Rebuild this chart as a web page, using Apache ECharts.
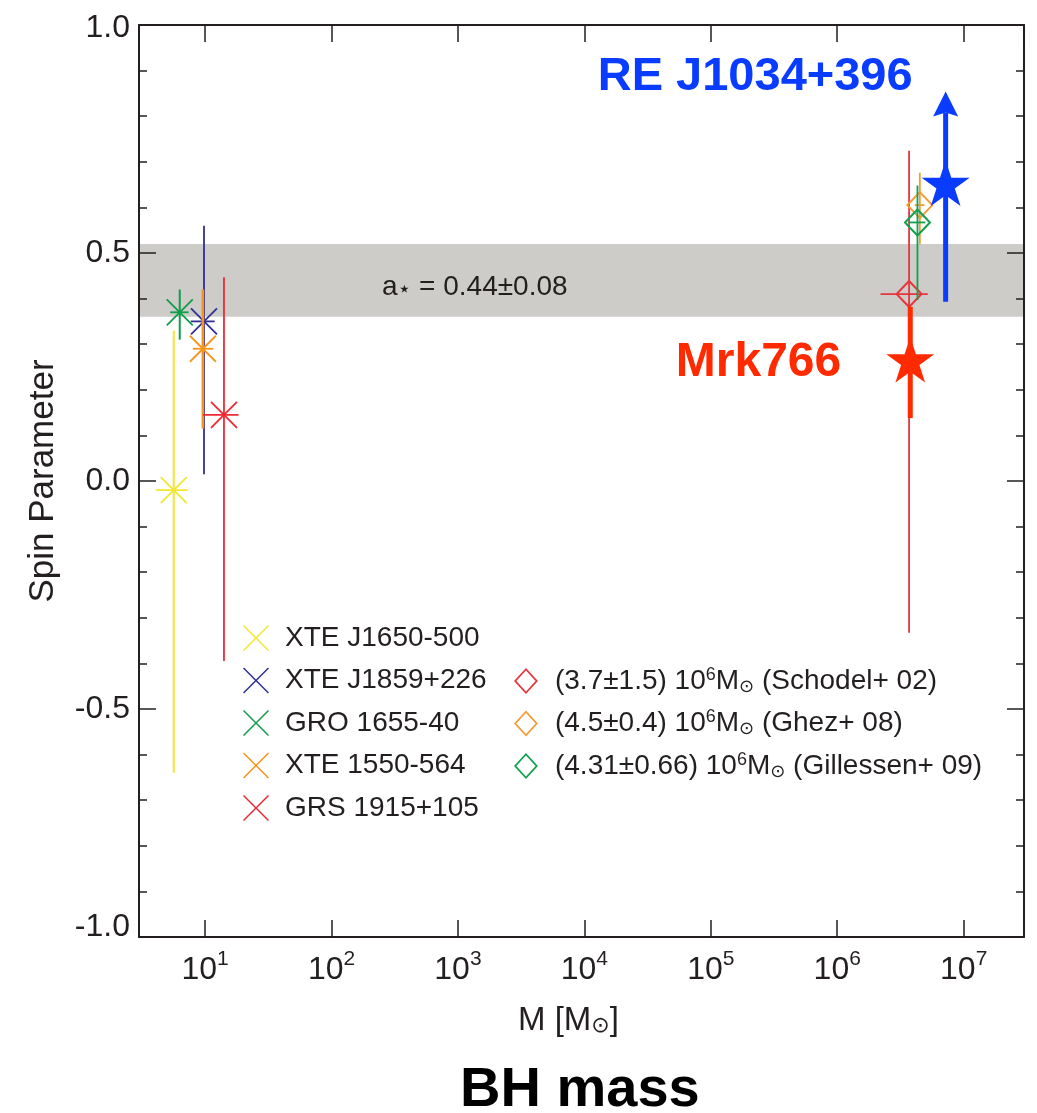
<!DOCTYPE html>
<html><head><meta charset="utf-8">
<script src="https://cdn.jsdelivr.net/npm/echarts@6/dist/echarts.min.js"></script>
<style>html,body{margin:0;padding:0;background:#fff}#c{width:1037px;height:1113px}</style>
</head><body><div id="c"></div>
<script>
// ---------- data ----------
const xRange = [3, 3e7];
const yRange = [-1, 1];
const yInterval = 0.5;

const stellarNames  = ['XTE J1650-500', 'XTE J1859+226', 'GRO 1655-40', 'XTE 1550-564', 'GRS 1915+105'];
const stellarMass   = [5.65, 9.8, 6.3, 9.6, 14.1];
const stellarMassLo = [4.1, 7.7, 5.3, 8.0, 9.6];
const stellarMassHi = [7.3, 11.9, 7.4, 11.6, 18.4];
const stellarSpin   = [-0.02, 0.35, 0.37, 0.29, 0.145];
const stellarSpinLo = [-0.64, 0.015, 0.31, 0.115, -0.395];
const stellarSpinHi = [0.33, 0.56, 0.42, 0.42, 0.447];

const sgrNames  = ['Schodel+ 02', 'Ghez+ 08', 'Gillessen+ 09'];
const sgrLegend = ['(3.7±1.5) 10{sup|6}M{sub|⊙} (Schodel+ 02)', '(4.5±0.4) 10{sup|6}M{sub|⊙} (Ghez+ 08)', '(4.31±0.66) 10{sup|6}M{sub|⊙} (Gillessen+ 09)'];
const sgrMass   = [3.7e6, 4.5e6, 4.31e6];
const sgrMassLo = [2.2e6, 4.1e6, 3.65e6];
const sgrMassHi = [5.2e6, 4.9e6, 4.97e6];
const sgrSpin   = [0.41, 0.605, 0.567];
const sgrSpinLo = [-0.333, 0.519, 0.397];
const sgrSpinHi = [0.724, 0.676, 0.648];

const agnNames  = ['RE J1034+396', 'Mrk766'];
const agnMass   = [7.2e6, 3.78e6];
const agnSpin   = [0.653, 0.266];
const agnSpinLo = [0.393, 0.138];
const agnSpinHi = [0.854, 0.382];
const agnLowerLimit = [true, false];

const bandSpin  = [0.36, 0.52];
const bandLabel = 'a{st|⋆} = 0.44±0.08';

// ---------- styles ----------
const FONT = '"Liberation Sans", Arial, Helvetica, sans-serif';
const INK = '#231f20';
const stellarColors = ['#f2e632', '#2e3192', '#0f9d4a', '#f7941d', '#ec2a33'];
const stellarWidths = [2, 1.8, 2, 2.6, 1.8];
const sgrColors = ['#e8353d', '#f59a38', '#13a04e'];
const agnColors = ['#0a3cff', '#ff2a00'];
const agnLabelOffset = [[-33, -106], [-69, 3]];
const agnFontSize = [47, 48];

const XPATH = 'M0,4 L4,0 L50,46 L96,0 L100,4 L54,50 L100,96 L96,100 L50,54 L4,100 L0,96 L46,50 Z';
const DPATH = 'M46,0 L92,50 L46,100 L0,50 Z M46,10 L9,50 L46,90 L83,50 Z';
const STAR = 'M50,0 L61.23,34.55 L97.55,34.55 L68.17,55.9 L79.39,90.45 L50,69.1 L20.61,90.45 L31.83,55.9 L2.45,34.55 L38.77,34.55 Z';

function lineEl(p, q, color, w) {
  return {type: 'line', shape: {x1: p[0], y1: p[1], x2: q[0], y2: q[1]}, style: {stroke: color, lineWidth: w, fill: null}};
}

const series = [];

// band
series.push({
  type: 'line', data: [], z: 1, silent: true,
  markArea: {
    silent: true,
    itemStyle: {color: '#cdccc8'},
    label: {
      show: true, position: 'insideLeft', offset: [238, 7],
      formatter: bandLabel, color: INK, fontSize: 28, fontFamily: FONT,
      rich: {st: {fontSize: 22, fontFamily: '"DejaVu Sans", sans-serif', verticalAlign: 'bottom', lineHeight: 26, color: INK}}
    },
    data: [[{yAxis: bandSpin[0]}, {yAxis: bandSpin[1]}]]
  }
});

// stellar-mass black holes
stellarNames.forEach((name, i) => {
  const col = stellarColors[i], w = stellarWidths[i];
  series.push({
    type: 'custom', name: name, z: 3,
    itemStyle: {color: col},
    data: [[stellarMass[i], stellarSpin[i], stellarMassLo[i], stellarMassHi[i], stellarSpinLo[i], stellarSpinHi[i]]],
    renderItem: (params, api) => {
      const c = api.coord([api.value(0), api.value(1)]);
      const vLo = api.coord([api.value(0), api.value(4)]);
      const vHi = api.coord([api.value(0), api.value(5)]);
      const hLo = api.coord([api.value(2), api.value(1)]);
      const hHi = api.coord([api.value(3), api.value(1)]);
      const s = 13;
      return {type: 'group', children: [
        lineEl(vLo, vHi, col, w),
        lineEl(hLo, hHi, col, 1.8),
        lineEl([c[0] - s, c[1] - s], [c[0] + s, c[1] + s], col, 1.8),
        lineEl([c[0] - s, c[1] + s], [c[0] + s, c[1] - s], col, 1.8)
      ]};
    }
  });
});

// Sgr A* mass estimates
sgrNames.forEach((name, i) => {
  const col = sgrColors[i];
  series.push({
    type: 'custom', name: name, z: 3,
    itemStyle: {color: col},
    data: [[sgrMass[i], sgrSpin[i], sgrMassLo[i], sgrMassHi[i], sgrSpinLo[i], sgrSpinHi[i]]],
    renderItem: (params, api) => {
      const c = api.coord([api.value(0), api.value(1)]);
      const vLo = api.coord([api.value(0), api.value(4)]);
      const vHi = api.coord([api.value(0), api.value(5)]);
      const hLo = api.coord([api.value(2), api.value(1)]);
      const hHi = api.coord([api.value(3), api.value(1)]);
      const dx = 12.5, dy = 13;
      return {type: 'group', children: [
        lineEl(vLo, vHi, col, 1.8),
        lineEl(hLo, hHi, col, 1.8),
        {type: 'polygon', shape: {points: [[c[0], c[1] - dy], [c[0] + dx, c[1]], [c[0], c[1] + dy], [c[0] - dx, c[1]]]},
         style: {stroke: col, lineWidth: 2, fill: null}}
      ]};
    }
  });
});

// AGN
agnNames.forEach((name, i) => {
  const col = agnColors[i];
  series.push({
    type: 'custom', name: name, z: 4,
    itemStyle: {color: col},
    data: [[agnMass[i], agnSpin[i], agnSpinLo[i], agnSpinHi[i]]],
    renderItem: (params, api) => {
      const c = api.coord([api.value(0), api.value(1)]);
      const lo = api.coord([api.value(0), api.value(2)]);
      const hi = api.coord([api.value(0), api.value(3)]);
      const children = [];
      if (agnLowerLimit[i]) {
        const head = 25;
        children.push(lineEl(lo, [hi[0], hi[1] + head - 4], col, 5));
        children.push({type: 'polygon', shape: {points: [[hi[0], hi[1]], [hi[0] + 12.5, hi[1] + head], [hi[0], hi[1] + head - 4], [hi[0] - 12.5, hi[1] + head]]},
                       style: {fill: col}});
      } else {
        children.push(lineEl(lo, hi, col, 5));
      }
      const W = 48, H = 46;
      children.push({type: 'path', shape: {pathData: STAR, x: c[0] - W / 2, y: c[1] - H / 2, width: W, height: H, layout: 'center'}, style: {fill: col}});
      children.push({type: 'text', style: {text: name, x: c[0] + agnLabelOffset[i][0], y: c[1] + agnLabelOffset[i][1],
        textAlign: 'right', textVerticalAlign: 'middle', align: 'right', verticalAlign: 'middle',
        font: 'bold ' + agnFontSize[i] + 'px ' + FONT, fill: col}});
      return {type: 'group', children: children};
    }
  });
});

const legendText = {fontSize: 28, fontFamily: FONT, color: INK, lineHeight: 30, padding: [0, 0, 0, 11]};
const legendRich = {
  sup: {fontSize: 18, fontFamily: FONT, color: INK, lineHeight: 14, verticalAlign: 'top'},
  sub: {fontSize: 18, fontFamily: '"DejaVu Sans", sans-serif', color: INK, lineHeight: 14, verticalAlign: 'bottom'}
};

const option = {
  animation: false,
  backgroundColor: '#fff',
  title: {
    text: 'BH mass', left: 455, top: 1058,
    textStyle: {fontSize: 56, fontWeight: 'bold', fontFamily: FONT, color: '#000'}
  },
  grid: {left: 139, right: 13, top: 25, bottom: 176},
  legend: [
    {
      orient: 'vertical', left: 238, top: 618, itemWidth: 26, itemHeight: 26, itemGap: 12.5,
      textStyle: legendText, selectedMode: false,
      data: stellarNames.map((n, i) => ({name: n, icon: 'path://' + XPATH, itemStyle: {color: stellarColors[i]}}))
    },
    {
      orient: 'vertical', left: 509, top: 661, itemWidth: 26, itemHeight: 26, itemGap: 12.5,
      textStyle: Object.assign({}, legendText, {rich: legendRich}), selectedMode: false,
      formatter: (n) => sgrLegend[sgrNames.indexOf(n)],
      data: sgrNames.map((n, i) => ({name: n, icon: 'path://' + DPATH, itemStyle: {color: sgrColors[i]}}))
    }
  ],
  xAxis: [
    {
      type: 'log', logBase: 10, min: xRange[0], max: xRange[1], position: 'bottom', z: 10,
      name: 'M [M{sub|⊙}]', nameLocation: 'middle', nameGap: 67,
      nameTextStyle: {fontSize: 33, fontFamily: FONT, color: INK, padding: [0, 26, 0, 0],
        rich: {sub: {fontSize: 22, fontFamily: '"DejaVu Sans", sans-serif', color: INK, verticalAlign: 'bottom', lineHeight: 18}}},
      axisLine: {show: true, onZero: false, lineStyle: {color: INK, width: 2}},
      axisTick: {show: true, inside: true, length: 17, lineStyle: {color: INK, width: 1.5}},
      minorTick: {show: false},
      splitLine: {show: false},
      axisLabel: {
        margin: 12, showMinLabel: false, showMaxLabel: false,
        formatter: (v) => '{b|10}{s|' + Math.round(Math.log10(v)) + '}',
        rich: {
          b: {fontSize: 32, fontFamily: FONT, color: INK, lineHeight: 42},
          s: {fontSize: 21, fontFamily: FONT, color: INK, lineHeight: 22, verticalAlign: 'top'}
        }
      }
    },
    {
      type: 'log', logBase: 10, min: xRange[0], max: xRange[1], position: 'top', z: 10,
      axisLine: {show: true, onZero: false, lineStyle: {color: INK, width: 2}},
      axisTick: {show: true, inside: true, length: 17, lineStyle: {color: INK, width: 1.5}},
      axisLabel: {show: false}, splitLine: {show: false}
    }
  ],
  yAxis: [
    {
      type: 'value', min: yRange[0], max: yRange[1], interval: yInterval, position: 'left', z: 10,
      name: 'Spin Parameter', nameLocation: 'middle', nameGap: 78,
      nameTextStyle: {fontSize: 35, fontFamily: FONT, color: INK},
      axisLine: {show: true, onZero: false, lineStyle: {color: INK, width: 2}},
      axisTick: {show: true, inside: true, length: 17, lineStyle: {color: INK, width: 1.5}},
      minorTick: {show: true, splitNumber: 5, length: 8, lineStyle: {color: INK, width: 1.5}},
      splitLine: {show: false},
      axisLabel: {
        margin: 9,
        formatter: (v) => v <= yRange[0] ? '{lo|' + v.toFixed(1) + '}' : (v >= yRange[1] ? '{hi|' + v.toFixed(1) + '}' : '{n|' + v.toFixed(1) + '}'),
        rich: {
          n: {fontSize: 32, fontFamily: FONT, color: INK},
          lo: {fontSize: 32, fontFamily: FONT, color: INK, padding: [0, 0, 20, 0]},
          hi: {fontSize: 32, fontFamily: FONT, color: INK, padding: [6, 0, 0, 0]}
        }
      }
    },
    {
      type: 'value', min: yRange[0], max: yRange[1], interval: yInterval, position: 'right', z: 10,
      axisLine: {show: true, onZero: false, lineStyle: {color: INK, width: 2}},
      axisTick: {show: true, inside: true, length: 17, lineStyle: {color: INK, width: 1.5}},
      minorTick: {show: true, splitNumber: 5, length: 8, lineStyle: {color: INK, width: 1.5}},
      splitLine: {show: false}, axisLabel: {show: false}
    }
  ],
  series: series
};

const chart = echarts.init(document.getElementById('c'), null, {renderer: 'canvas'});
chart.setOption(option);
</script>
</body></html>
